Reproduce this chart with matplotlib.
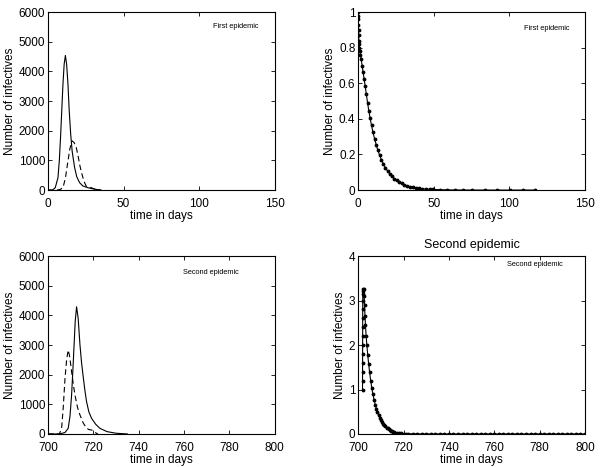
import matplotlib
matplotlib.use("Agg")
import matplotlib.pyplot as plt

plt.rcParams['font.family'] = ['Liberation Sans', 'DejaVu Sans']

# first epidemic, absolute numbers (solid and dashed)
t1_solid = [0, 3, 4.8, 6.6, 7.5, 8.4, 9.2, 9.9, 10.7, 11.5, 12.3, 13.2, 14, 15, 16, 17.6, 19, 20.9, 23, 26.4, 30.8, 35]
i1_solid = [0, 0, 80, 420, 1000, 1890, 2800, 3580, 4250, 4540, 4250, 3580, 2700, 1890, 1300, 760, 450, 250, 140, 80, 30, 0]
t1_dash = [0, 6, 8, 9.9, 11.5, 13.2, 14.5, 15.9, 17.3, 18.7, 19.8, 20.9, 22, 23.1, 24.2, 25.3, 27, 28.6, 30, 32, 35]
i1_dash = [0, 0, 20, 80, 400, 980, 1400, 1660, 1600, 1430, 1180, 870, 620, 420, 250, 130, 90, 80, 50, 15, 0]

# second epidemic, absolute numbers
t2_solid = [700, 705, 707.5, 708.9, 709.7, 710.4, 711.0, 711.5, 712.0, 712.6, 713.3, 714.1, 714.8, 715.6, 716.3,
            717, 718, 719.2, 721, 722.9, 726, 730, 735]
i2_solid = [0, 0, 50, 190, 600, 1310, 2200, 3000, 3800, 4290, 3900, 3000, 2400, 1880, 1450,
            1090, 750, 530, 330, 190, 80, 25, 0]
t2_dash = [700, 705, 706, 706.7, 707.5, 708.2, 708.9, 709.6, 710.4, 711.2, 711.9, 713, 714.1, 715.6, 717,
           718, 719.2, 720.5, 722]
i2_dash = [0, 0, 190, 870, 1880, 2500, 2830, 2600, 2100, 1650, 1310, 900, 640, 360, 200,
           150, 135, 60, 0]

# first epidemic, scaled (with markers)
t1_mark = [0, 0.02, 0.05, 0.1, 0.2, 0.3, 0.45, 0.6, 0.8, 1.0, 1.5, 2.0, 2.6, 3.2, 3.9, 4.6, 5.4, 6.2, 7.0, 7.9,
           8.8, 9.8, 10.8, 11.9, 13, 14.2, 15.4, 16.7, 18, 19.4, 20.8, 22.3, 23.8, 25.4, 27, 28.7, 30.4, 32.2,
           34, 36, 38, 40.2, 42.5, 45, 47.5, 49.6, 54.2, 58.8, 64, 69.4, 75.3, 83.9, 91.9, 100.5, 109, 117]
y1_mark = [1.0, 0.98, 0.96, 0.93, 0.9, 0.87, 0.84, 0.82, 0.8, 0.78, 0.76, 0.735, 0.70, 0.665, 0.625, 0.585,
           0.538, 0.49, 0.447, 0.403, 0.364, 0.324, 0.289, 0.255, 0.224, 0.195, 0.17, 0.147, 0.126, 0.107,
           0.092, 0.077, 0.065, 0.054, 0.045, 0.037, 0.03, 0.025, 0.02, 0.016, 0.013, 0.01, 0.0076, 0.0057,
           0.0043, 0.0033, 0.002, 0.0012, 0.0006, 0.0003, 0.0002, 0.0001, 0, 0, 0, 0]

# second epidemic, scaled (with markers)
t2_mark = [701.90, 701.91, 701.92, 701.93, 701.94, 701.95, 701.96, 701.97, 701.98, 701.99, 702.0, 702.05,
           702.1, 702.2, 702.4, 702.6, 702.8, 703.0, 703.2, 703.5, 703.8, 704.2, 704.6, 705.0, 705.5, 706.0,
           706.5, 707.0, 707.5, 708.0, 708.5, 709.0, 709.5, 710.0, 710.5, 711.0, 711.5, 712.0, 712.5, 713.0,
           713.5, 714.0, 714.5, 715.0, 715.5, 716.0, 717, 718, 719, 720, 721, 722, 724, 726, 728, 730, 732,
           734, 736, 738, 740, 742, 744, 746, 748, 750, 752, 754, 756, 758, 760, 762, 764, 766, 768, 770,
           772, 774, 776, 778, 780, 782, 784, 786, 788, 790, 792, 794, 796, 798, 800]
y2_mark = [1.0, 1.2, 1.4, 1.6, 1.8, 2.0, 2.2, 2.4, 2.6, 2.8, 3.0, 3.15,
           3.22, 3.25, 3.25, 3.1, 2.9, 2.65, 2.45, 2.2, 2.0, 1.78, 1.58, 1.4, 1.2, 1.03,
           0.89, 0.77, 0.66, 0.57, 0.49, 0.42, 0.36, 0.31, 0.27, 0.23, 0.2, 0.17, 0.145, 0.125,
           0.105, 0.09, 0.075, 0.065, 0.055, 0.045, 0.032, 0.022, 0.015, 0.01, 0.007, 0.005, 0.003, 0.002,
           0.001, 0, 0, 0, 0, 0, 0, 0, 0, 0, 0, 0, 0, 0, 0, 0, 0, 0, 0, 0, 0, 0,
           0, 0, 0, 0, 0, 0, 0, 0, 0, 0, 0, 0, 0, 0, 0]

fs = 8.5
fig = plt.figure(figsize=(6.0, 4.67), dpi=100)
ax1 = fig.add_axes([0.08, 0.593, 0.378, 0.381])
ax2 = fig.add_axes([0.597, 0.593, 0.378, 0.381])
ax3 = fig.add_axes([0.08, 0.0707, 0.378, 0.381])
ax4 = fig.add_axes([0.597, 0.0707, 0.378, 0.381])

ax1.plot(t1_solid, i1_solid, color='black', lw=0.8)
ax1.plot(t1_dash, i1_dash, color='black', lw=0.8, linestyle=(0, (5, 3)))
ax1.set_xlim(0, 150)
ax1.set_ylim(0, 6000)
ax1.set_xticks([0, 50, 100, 150])
ax1.set_yticks([0, 1000, 2000, 3000, 4000, 5000, 6000])
ax1.text(0.83, 0.92, 'First epidemic', transform=ax1.transAxes, fontsize=5.3, ha='center', va='center')

ax2.plot(t1_mark, y1_mark, color='black', lw=0.8, marker='.', markersize=3.5)
ax2.set_xlim(0, 150)
ax2.set_ylim(0, 1)
ax2.set_xticks([0, 50, 100, 150])
ax2.set_yticks([0, 0.2, 0.4, 0.6, 0.8, 1])
ax2.set_yticklabels(['0', '0.2', '0.4', '0.6', '0.8', '1'])
ax2.text(0.83, 0.91, 'First epidemic', transform=ax2.transAxes, fontsize=5.3, ha='center', va='center')

ax3.plot(t2_solid, i2_solid, color='black', lw=0.8)
ax3.plot(t2_dash, i2_dash, color='black', lw=0.8, linestyle=(0, (5, 3)))
ax3.set_xlim(700, 800)
ax3.set_ylim(0, 6000)
ax3.set_xticks([700, 720, 740, 760, 780, 800])
ax3.set_yticks([0, 1000, 2000, 3000, 4000, 5000, 6000])
ax3.text(0.72, 0.91, 'Second epidemic', transform=ax3.transAxes, fontsize=5.3, ha='center', va='center')

ax4.plot(t2_mark, y2_mark, color='black', lw=0.8, marker='.', markersize=3.5)
ax4.set_xlim(700, 800)
ax4.set_ylim(0, 4)
ax4.set_xticks([700, 720, 740, 760, 780, 800])
ax4.set_yticks([0, 1, 2, 3, 4])
ax4.set_title('Second epidemic', fontsize=fs + 0.5, pad=6)
ax4.text(0.78, 0.95, 'Second epidemic', transform=ax4.transAxes, fontsize=5.3, ha='center', va='center')

for ax in [ax1, ax2, ax3, ax4]:
    ax.set_xlabel('time in days', fontsize=fs, labelpad=0)
    ax.set_ylabel('Number of infectives', fontsize=fs, labelpad=2)
    ax.tick_params(direction='in', top=True, right=True, length=3, width=0.6, labelsize=fs, pad=2)
    ax.tick_params(axis='x', pad=6)
    for s in ax.spines.values():
        s.set_linewidth(0.8)

plt.savefig('out.png', dpi=100)
